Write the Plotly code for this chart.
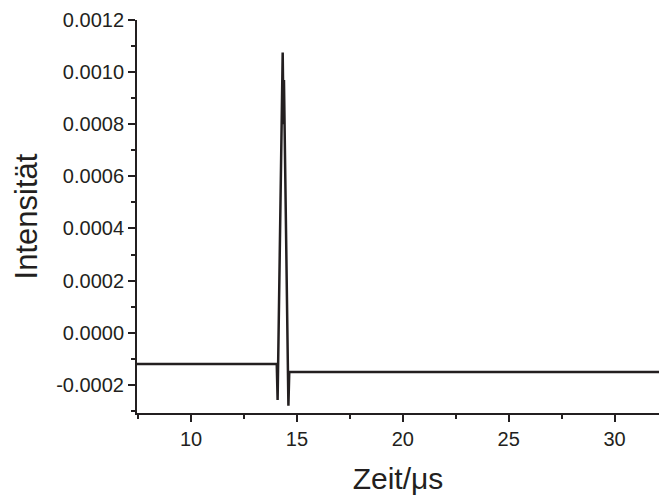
import plotly.graph_objects as go

# Data
time_us = [7.45, 14.05, 14.09, 14.33, 14.37, 14.39, 14.60, 14.64, 32.1]
intensity = [-0.000120, -0.000120, -0.000258, 0.001075, 0.00080, 0.00097, -0.000280, -0.000151, -0.000151]

y_tick_vals = [-0.0002, 0.0, 0.0002, 0.0004, 0.0006, 0.0008, 0.0010, 0.0012]
y_tick_labels = ["-0.0002", "0.0000", "0.0002", "0.0004", "0.0006", "0.0008", "0.0010", "0.0012"]
x_tick_vals = [10, 15, 20, 25, 30]
x_tick_labels = ["10", "15", "20", "25", "30"]

ink = "#231f20"
font_family = "Liberation Sans, Arial, sans-serif"

fig = go.Figure()
fig.add_trace(go.Scatter(
    x=time_us, y=intensity, mode="lines",
    line=dict(color=ink, width=2.5),
    showlegend=False,
))

fig.update_layout(
    width=659, height=498,
    margin=dict(l=137, r=0, t=20, b=85),
    paper_bgcolor="white", plot_bgcolor="white",
    font=dict(family=font_family, color=ink, size=20),
    xaxis=dict(
        range=[7.45, 32.1],
        tickmode="array", tickvals=x_tick_vals, ticktext=x_tick_labels,
        showline=True, linecolor=ink, linewidth=2,
        ticks="outside", ticklen=7, tickwidth=2, tickcolor=ink,
        minor=dict(dtick=2.5, tick0=0, ticks="outside", ticklen=4, tickwidth=2, tickcolor=ink),
        showgrid=False, zeroline=False,
        title=dict(text="Zeit/μs", font=dict(size=30, family=font_family, color=ink), standoff=19),
    ),
    yaxis=dict(
        range=[-0.000308, 0.0012],
        tickmode="array", tickvals=y_tick_vals, ticktext=y_tick_labels,
        showline=True, linecolor=ink, linewidth=2,
        ticks="outside", ticklen=7, tickwidth=2, tickcolor=ink,
        minor=dict(dtick=0.0001, tick0=0, ticks="outside", ticklen=4, tickwidth=2, tickcolor=ink),
        showgrid=False, zeroline=False,
        title=dict(text="Intensität", font=dict(size=31, family=font_family, color=ink), standoff=9),
    ),
)

fig.write_html("out.html")
